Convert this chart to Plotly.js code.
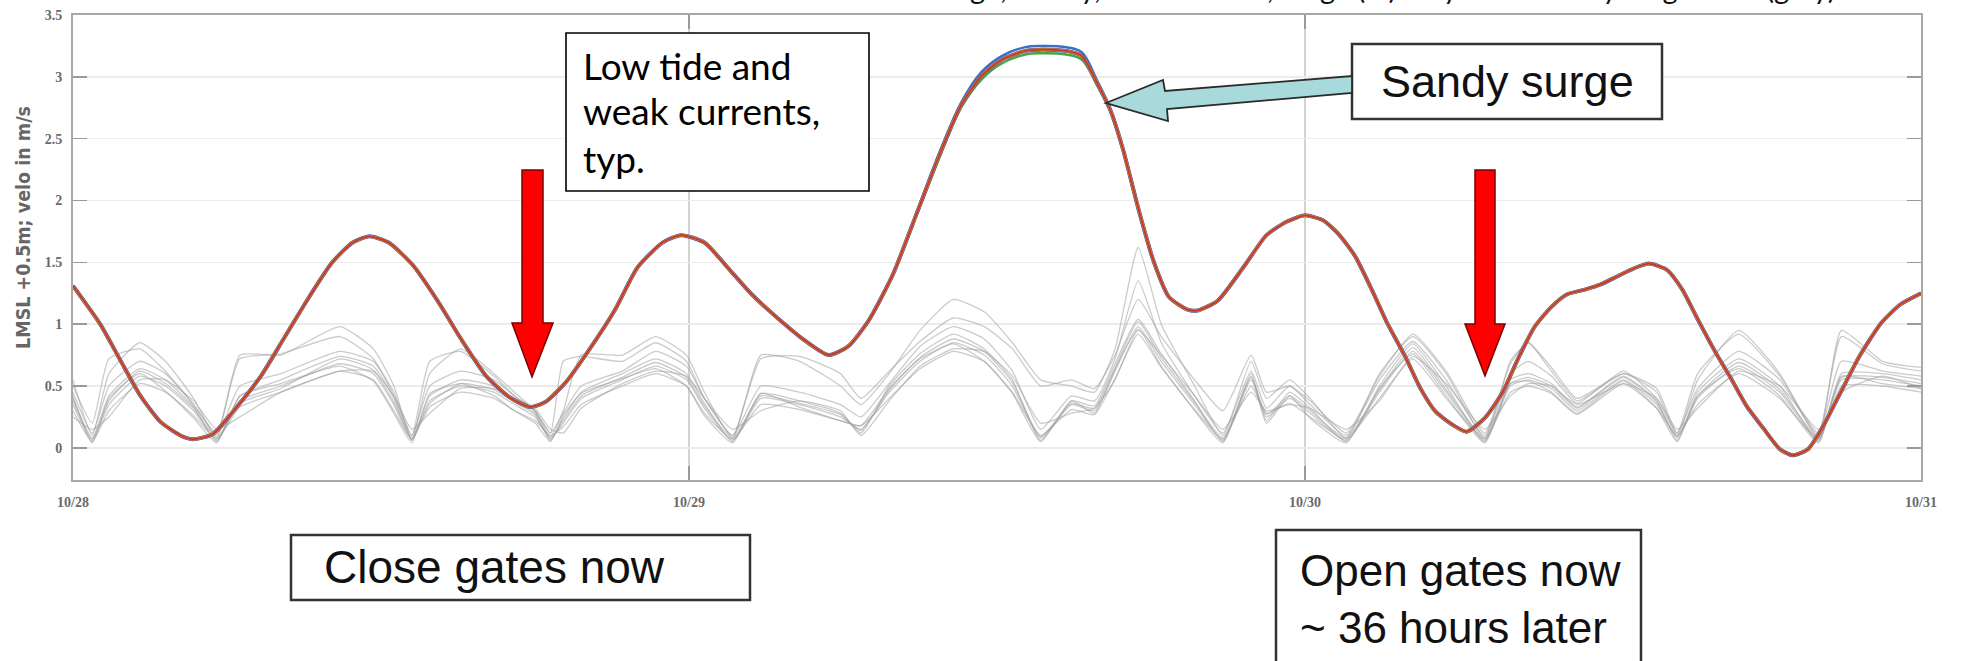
<!DOCTYPE html>
<html>
<head>
<meta charset="utf-8">
<script src="https://cdn.plot.ly/plotly-3.0.1.min.js"></script>
<style>html,body{margin:0;padding:0;background:#fff;}#chart{width:1968px;height:661px;}</style>
</head>
<body>
<div id="chart"></div>
<script>
// ---------- data (hours after 10/28 00:00) ----------
const dayTicks = [0, 24, 48, 72];
const dayLabels = ['10/28', '10/29', '10/30', '10/31'];
const yTicks = [0, 0.5, 1, 1.5, 2, 2.5, 3, 3.5];
const yTickLabels = ['0', '0.5', '1', '1.5', '2', '2.5', '3', '3.5'];

// water level ensemble (members overlap almost perfectly)
const levelHours = [0, 1.06, 1.84, 2.63, 3.41, 4.19, 4.65, 5.44, 6.22, 7.32, 8.26, 9.2, 10.1, 10.9, 11.55, 12.3, 13.27, 14.2, 15.15, 16.1, 17.0, 17.8, 18.4, 19.2, 20.1, 21.1, 22.0, 22.97, 23.7, 24.6, 25.5, 26.45, 27.56, 28.5, 29.44, 30.2, 31.0, 31.94, 32.9, 33.8, 34.6, 35.4, 36.2, 37.1, 37.7, 38.7, 39.3, 39.9, 40.4, 40.9, 41.5, 42.1, 42.7, 43.4, 43.8, 44.6, 45.6, 46.5, 47.3, 48.0, 48.7, 49.3, 49.95, 50.6, 51.2, 51.9, 52.5, 53.1, 53.8, 54.3, 55.0, 55.7, 56.3, 56.95, 57.6, 58.2, 58.9, 59.5, 60.2, 60.8, 61.4, 62.1, 62.7, 63.3, 64.0, 64.6, 65.2, 65.85, 66.5, 67.0, 67.6, 68.2, 68.8, 69.6, 70.45, 71.2, 72];
const levelMean = [1.31, 1.0, 0.71, 0.42, 0.21, 0.10, 0.07, 0.11, 0.29, 0.58, 0.90, 1.22, 1.50, 1.66, 1.71, 1.66, 1.47, 1.19, 0.87, 0.58, 0.41, 0.33, 0.37, 0.53, 0.79, 1.11, 1.46, 1.66, 1.72, 1.66, 1.46, 1.24, 1.03, 0.87, 0.75, 0.82, 1.03, 1.40, 1.91, 2.39, 2.77, 3.01, 3.14, 3.21, 3.22, 3.21, 3.17, 2.95, 2.74, 2.42, 1.94, 1.51, 1.22, 1.12, 1.11, 1.19, 1.46, 1.72, 1.83, 1.88, 1.84, 1.73, 1.55, 1.28, 1.01, 0.74, 0.48, 0.29, 0.18, 0.13, 0.24, 0.45, 0.72, 0.98, 1.14, 1.24, 1.28, 1.32, 1.39, 1.45, 1.49, 1.44, 1.28, 1.04, 0.77, 0.56, 0.34, 0.16, -0.01, -0.06, -0.01, 0.18, 0.42, 0.74, 1.01, 1.16, 1.25];
// surge-peak members that spread apart slightly
const surgeHours = [32.9, 33.8, 34.6, 35.4, 36.2, 37.1, 37.7, 38.7, 39.3, 39.9, 40.4];
const surgeUpper = [1.92, 2.41, 2.79, 3.04, 3.17, 3.24, 3.25, 3.24, 3.20, 2.97, 2.75];
const surgeLower = [1.90, 2.37, 2.75, 2.98, 3.11, 3.18, 3.19, 3.18, 3.14, 2.93, 2.73];

// velocity magnitudes (gray)
const veloHours = [0, 0.75, 1.4, 2.6, 3.6, 4.7, 5.6, 6.5, 8.1, 10.4, 11.7, 12.5, 13.2, 13.9, 15.1, 16.4, 17.2, 18.0, 18.6, 19.1, 19.8, 21.4, 22.7, 23.9, 24.6, 25.7, 26.8, 28.3, 29.9, 30.7, 31.8, 33.0, 34.3, 35.5, 36.6, 37.7, 38.9, 39.8, 40.6, 41.5, 42.4, 43.7, 44.8, 45.9, 46.5, 47.4, 48.2, 49.6, 50.9, 52.2, 53.5, 55.0, 56.0, 56.7, 57.6, 58.6, 60.4, 61.7, 62.5, 63.3, 64.9, 66.5, 68.0, 68.9, 70.5, 72];
const velo1 = [0.35, 0.06, 0.35, 0.58, 0.50, 0.30, 0.06, 0.38, 0.50, 0.68, 0.60, 0.35, 0.06, 0.38, 0.50, 0.45, 0.35, 0.25, 0.08, 0.20, 0.40, 0.55, 0.66, 0.55, 0.32, 0.06, 0.40, 0.35, 0.25, 0.15, 0.45, 0.70, 0.85, 0.75, 0.50, 0.08, 0.35, 0.30, 0.62, 0.98, 0.70, 0.35, 0.06, 0.55, 0.25, 0.40, 0.28, 0.06, 0.45, 0.78, 0.45, 0.06, 0.50, 0.55, 0.48, 0.30, 0.55, 0.35, 0.08, 0.40, 0.66, 0.45, 0.06, 0.55, 0.55, 0.50];
const velo2 = [0.40, 0.08, 0.42, 0.64, 0.55, 0.33, 0.05, 0.42, 0.55, 0.74, 0.66, 0.40, 0.07, 0.42, 0.55, 0.50, 0.40, 0.28, 0.06, 0.24, 0.45, 0.60, 0.72, 0.60, 0.36, 0.05, 0.44, 0.38, 0.28, 0.12, 0.50, 0.76, 0.92, 0.80, 0.55, 0.06, 0.38, 0.34, 0.68, 1.04, 0.76, 0.38, 0.05, 0.60, 0.22, 0.45, 0.32, 0.05, 0.50, 0.84, 0.50, 0.05, 0.55, 0.60, 0.52, 0.33, 0.58, 0.38, 0.06, 0.45, 0.72, 0.50, 0.05, 0.60, 0.60, 0.55];
const velo3 = [0.30, 0.05, 0.30, 0.52, 0.45, 0.26, 0.07, 0.33, 0.45, 0.62, 0.55, 0.30, 0.07, 0.33, 0.45, 0.40, 0.30, 0.22, 0.10, 0.17, 0.35, 0.50, 0.60, 0.50, 0.28, 0.07, 0.35, 0.31, 0.22, 0.18, 0.40, 0.64, 0.78, 0.70, 0.45, 0.10, 0.31, 0.27, 0.56, 0.92, 0.65, 0.31, 0.07, 0.50, 0.28, 0.36, 0.25, 0.07, 0.40, 0.72, 0.40, 0.07, 0.45, 0.50, 0.44, 0.27, 0.52, 0.32, 0.10, 0.35, 0.60, 0.40, 0.07, 0.50, 0.50, 0.45];
const velo4 = [0.55, 0.10, 0.60, 0.85, 0.70, 0.40, 0.08, 0.75, 0.75, 0.98, 0.80, 0.50, 0.06, 0.60, 0.80, 0.60, 0.45, 0.30, 0.09, 0.30, 0.75, 0.75, 0.90, 0.75, 0.45, 0.08, 0.75, 0.70, 0.50, 0.35, 0.60, 0.95, 1.20, 1.10, 0.85, 0.55, 0.50, 0.45, 0.80, 1.62, 1.00, 0.50, 0.10, 0.70, 0.40, 0.55, 0.40, 0.08, 0.60, 0.90, 0.60, 0.08, 0.70, 0.85, 0.65, 0.40, 0.60, 0.45, 0.10, 0.55, 0.95, 0.60, 0.08, 0.95, 0.70, 0.65];
const velo5 = [0.45, 0.12, 0.50, 0.70, 0.60, 0.35, 0.10, 0.50, 0.60, 0.78, 0.70, 0.45, 0.10, 0.50, 0.62, 0.55, 0.42, 0.30, 0.12, 0.28, 0.50, 0.62, 0.78, 0.66, 0.40, 0.10, 0.50, 0.45, 0.35, 0.25, 0.52, 0.82, 0.98, 0.88, 0.62, 0.15, 0.42, 0.38, 0.72, 1.35, 0.85, 0.42, 0.12, 0.62, 0.32, 0.50, 0.35, 0.10, 0.55, 0.86, 0.55, 0.10, 0.60, 0.70, 0.58, 0.36, 0.62, 0.40, 0.12, 0.48, 0.78, 0.55, 0.10, 0.70, 0.62, 0.58];
const velo6 = [0.25, 0.15, 0.25, 0.55, 0.55, 0.38, 0.15, 0.25, 0.45, 0.62, 0.62, 0.42, 0.15, 0.28, 0.48, 0.48, 0.40, 0.32, 0.15, 0.12, 0.32, 0.52, 0.62, 0.58, 0.40, 0.15, 0.30, 0.38, 0.30, 0.10, 0.38, 0.66, 0.80, 0.78, 0.58, 0.20, 0.28, 0.32, 0.55, 0.95, 0.75, 0.42, 0.15, 0.45, 0.30, 0.35, 0.32, 0.15, 0.38, 0.74, 0.52, 0.15, 0.42, 0.52, 0.50, 0.35, 0.52, 0.40, 0.15, 0.32, 0.62, 0.50, 0.15, 0.45, 0.58, 0.48];
const velo7 = [0.42, 0.04, 0.40, 0.60, 0.46, 0.24, 0.04, 0.42, 0.52, 0.66, 0.54, 0.28, 0.04, 0.44, 0.52, 0.42, 0.30, 0.20, 0.05, 0.26, 0.44, 0.56, 0.64, 0.50, 0.26, 0.04, 0.44, 0.33, 0.22, 0.18, 0.48, 0.72, 0.84, 0.70, 0.44, 0.05, 0.38, 0.28, 0.64, 0.96, 0.66, 0.30, 0.04, 0.58, 0.20, 0.42, 0.24, 0.04, 0.48, 0.76, 0.42, 0.04, 0.52, 0.54, 0.45, 0.28, 0.54, 0.32, 0.05, 0.42, 0.64, 0.42, 0.04, 0.58, 0.52, 0.48];
const velo8 = [0.50, 0.20, 0.72, 0.80, 0.62, 0.35, 0.12, 0.72, 0.76, 0.90, 0.72, 0.42, 0.10, 0.70, 0.78, 0.58, 0.42, 0.30, 0.12, 0.70, 0.74, 0.70, 0.85, 0.70, 0.40, 0.10, 0.72, 0.74, 0.60, 0.40, 0.62, 0.86, 1.05, 0.98, 0.80, 0.50, 0.55, 0.48, 0.75, 1.20, 0.90, 0.55, 0.30, 0.75, 0.45, 0.50, 0.38, 0.12, 0.58, 0.92, 0.62, 0.12, 0.68, 0.85, 0.62, 0.38, 0.60, 0.48, 0.12, 0.60, 0.92, 0.58, 0.12, 0.90, 0.68, 0.62];
const velo9 = [0.38, 0.07, 0.38, 0.62, 0.52, 0.32, 0.08, 0.36, 0.48, 0.72, 0.63, 0.37, 0.08, 0.36, 0.52, 0.47, 0.37, 0.27, 0.07, 0.22, 0.42, 0.57, 0.69, 0.57, 0.34, 0.08, 0.42, 0.36, 0.27, 0.14, 0.47, 0.73, 0.88, 0.78, 0.53, 0.09, 0.36, 0.32, 0.65, 1.02, 0.73, 0.37, 0.08, 0.57, 0.27, 0.42, 0.30, 0.08, 0.47, 0.81, 0.47, 0.08, 0.52, 0.57, 0.50, 0.32, 0.57, 0.37, 0.09, 0.42, 0.69, 0.47, 0.08, 0.57, 0.57, 0.52];
const veloMembers = [velo1, velo2, velo3, velo4, velo5, velo6, velo7, velo8, velo9];

// ---------- traces ----------
const traces = [];
veloMembers.forEach(v => traces.push({
  x: veloHours, y: v, type: 'scatter', mode: 'lines',
  line: {color: 'rgba(160,160,160,0.55)', width: 1.3, shape: 'spline', smoothing: 0.5}, hoverinfo: 'skip', showlegend: false
}));
traces.push({x: surgeHours, y: surgeUpper, mode: 'lines', line: {color: '#3b6fc4', width: 2.5, shape: 'spline'}, showlegend: false});
traces.push({x: surgeHours, y: surgeLower, mode: 'lines', line: {color: '#49a34a', width: 2.5, shape: 'spline'}, showlegend: false});
[['#4a6fb8', 4], ['#7a4a8c', 3.4], ['#e38a2a', 2.8], ['#c0392b', 1.8]].forEach(([c, w]) => traces.push({
  x: levelHours, y: levelMean, type: 'scatter', mode: 'lines',
  line: {color: c, width: w, shape: 'spline', smoothing: 0.6}, showlegend: false
}));

// ---------- annotation geometry (pixel -> paper) ----------
const L = 73, R = 1921, T = 15, B = 480;
const fx = p => (p - L) / (R - L);
const fy = p => (B - p) / (B - T);
const poly = pts => 'M ' + pts.map(p => fx(p[0]).toFixed(5) + ',' + fy(p[1]).toFixed(5)).join(' L ') + ' Z';
const rect = (x0, y0, x1, y1, w, c) => ({type: 'rect', xref: 'paper', yref: 'paper', x0: fx(x0), x1: fx(x1), y0: fy(y1), y1: fy(y0), line: {color: c, width: w}, fillcolor: 'white', layer: 'above'});

const shapes = [
  rect(566, 33, 869, 191, 1.6, '#000'),
  rect(1352, 44, 1662, 119, 2.5, '#333'),
  rect(291, 535, 750, 600, 2.5, '#333'),
  rect(1276, 530, 1641, 668, 2.5, '#333'),
  {type: 'path', xref: 'paper', yref: 'paper', layer: 'above', fillcolor: '#ff0000', line: {color: '#7a0000', width: 1.5},
   path: poly([[522,170],[543,170],[543,323],[553,323],[532,377],[512,323],[522,323]])},
  {type: 'path', xref: 'paper', yref: 'paper', layer: 'above', fillcolor: '#ff0000', line: {color: '#7a0000', width: 1.5},
   path: poly([[1475,170],[1495,170],[1495,324],[1505,324],[1485,376],[1465,324],[1475,324]])},
  {type: 'path', xref: 'paper', yref: 'paper', layer: 'above', fillcolor: '#a8dadb', line: {color: '#2b2b2b', width: 1.8},
   path: poly([[1106,103],[1163,80],[1165,91],[1352,76],[1352,93],[1167,109],[1168,121]])}
];

const ann = (x, y, text, font, xa, ya, extra) => Object.assign({xref: 'paper', yref: 'paper', x: fx(x), y: fy(y), text: text, showarrow: false, xanchor: xa, yanchor: ya, align: 'left', font: font}, extra || {});
const lowFont = {family: 'Lato, sans-serif', size: 37, color: '#000'};
const boxFont = {family: 'Liberation Sans, Arial, sans-serif', size: 46, color: '#111'};
const annotations = [
  ann(1838, 7, 'Ensemble tide and surge, hourly, 21 members, surge (m) only and velocity magnitude (gray)', {family: 'Lato, sans-serif', size: 29, color: '#111'}, 'right', 'bottom'),
  ann(24, 228, 'LMSL +0.5m; velo in m/s', {family: 'DejaVu Sans Condensed, DejaVu Sans', size: 19.5, color: '#666', weight: 'bold'}, 'center', 'middle', {textangle: -90}),
  ann(581, 65, 'Low tide and', lowFont, 'left', 'middle'),
  ann(581, 111, 'weak currents,', lowFont, 'left', 'middle'),
  ann(581, 158, 'typ.', lowFont, 'left', 'middle'),
  ann(1507, 81, 'Sandy surge', {family: 'Liberation Sans, Arial, sans-serif', size: 45, color: '#111'}, 'center', 'middle'),
  ann(322, 567, 'Close gates now', boxFont, 'left', 'middle'),
  ann(1298, 599, 'Open gates now<br>~ 36 hours later', {family: 'Liberation Sans, Arial, sans-serif', size: 44, color: '#111'}, 'left', 'middle')
];

const tickFont = {family: 'Liberation Serif, DejaVu Serif, serif', size: 14, color: '#6a6a6a', weight: 'bold'};
const layout = {
  width: 1968, height: 661,
  margin: {l: L, r: 1968 - R, t: T, b: 661 - B, pad: 0},
  paper_bgcolor: '#fff', plot_bgcolor: '#fff',
  showlegend: false,
  xaxis: {
    range: [0, 72], tickvals: dayTicks, ticktext: dayLabels,
    ticks: 'inside', ticklen: 14, tickwidth: 1.5, tickcolor: '#9a9a9a',
    showline: true, linecolor: '#a8a8a8', linewidth: 2, mirror: 'ticks',
    showgrid: true, gridcolor: '#d2d2d2', gridwidth: 1.2, zeroline: false,
    tickfont: tickFont, ticklabelstandoff: 8
  },
  yaxis: {
    range: [-0.26, 3.5], tickvals: yTicks, ticktext: yTickLabels,
    ticks: 'inside', ticklen: 14, tickwidth: 1.5, tickcolor: '#9a9a9a',
    showline: true, linecolor: '#a8a8a8', linewidth: 2, mirror: 'ticks',
    showgrid: true, gridcolor: '#ececec', gridwidth: 1.5, zeroline: false,
    tickfont: tickFont, ticklabelstandoff: 6
  },
  shapes: shapes,
  annotations: annotations
};

Plotly.newPlot('chart', traces, layout, {staticPlot: true, displayModeBar: false});
</script>
</body>
</html>
